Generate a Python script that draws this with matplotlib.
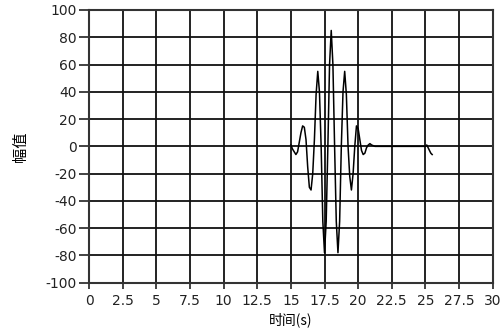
import matplotlib.pyplot as plt
import numpy as np

plt.rcParams['font.family'] = ['DejaVu Sans', 'Noto Sans CJK SC']
plt.rcParams['axes.unicode_minus'] = False

# forma de onda (tiempo en s, amplitud)
tiempo = [15.0, 15.125, 15.25, 15.375, 15.5, 15.625, 15.75, 15.875,
          16.0, 16.125, 16.25, 16.375, 16.5, 16.625, 16.75, 16.875,
          17.0, 17.125, 17.25, 17.375, 17.5, 17.625, 17.75, 17.875,
          18.0, 18.125, 18.25, 18.375, 18.5, 18.625, 18.75, 18.875,
          19.0, 19.125, 19.25, 19.375, 19.5, 19.625, 19.75, 19.875,
          20.0, 20.125, 20.25, 20.375, 20.5, 20.625, 20.75, 20.875,
          21.0, 21.125, 21.25, 21.375, 23.0, 25.0, 25.1, 25.25, 25.4, 25.5]
amplitud = [1, -2, -4, -6, -4, 3, 10, 15,
            14, 5, -15, -30, -32, -20, 5, 38,
            55, 40, 0, -55, -78, -55, 0, 60,
            85, 60, 0, -55, -78, -55, 0, 40,
            55, 38, 0, -22, -32, -20, 0, 15,
            13, 5, -3, -6, -5, -1, 1, 2,
            1, 0.5, 0, 0, 0, 0, 1, -2, -5, -6]

xticks = np.arange(0, 30.1, 2.5)
xticklabels = ['0', '2.5', '5', '7.5', '10', '12.5', '15', '17.5', '20',
               '22.5', '25', '27.5', '30']
yticks = np.arange(-100, 101, 20)

fig = plt.figure(figsize=(5.02, 3.30), dpi=100)
ax = fig.add_axes([0.1773, 0.1433, 0.8042, 0.8264])

ax.plot(tiempo, amplitud, color='black', linewidth=1.1, zorder=3)

ax.set_xlim(0, 30)
ax.set_ylim(-100, 100)
ax.set_xticks(xticks)
ax.set_xticklabels(xticklabels)
ax.set_yticks(yticks)
ax.grid(True, color='#111111', linewidth=1.3)
ax.tick_params(direction='out', width=1.2, labelsize=10, colors='#222222')
ax.tick_params(axis='y', length=7, pad=2)
ax.tick_params(axis='x', length=4, pad=4)
for s in ax.spines.values():
    s.set_color('#333333')
    s.set_linewidth(1.5)

ax.set_xlabel('时间(s)', fontsize=10, labelpad=3,
              family=['Noto Sans CJK SC', 'DejaVu Sans'])
ax.set_ylabel('幅值', fontsize=11, labelpad=12,
              family=['Noto Sans CJK SC', 'DejaVu Sans'])

fig.savefig('out.png', dpi=100)
